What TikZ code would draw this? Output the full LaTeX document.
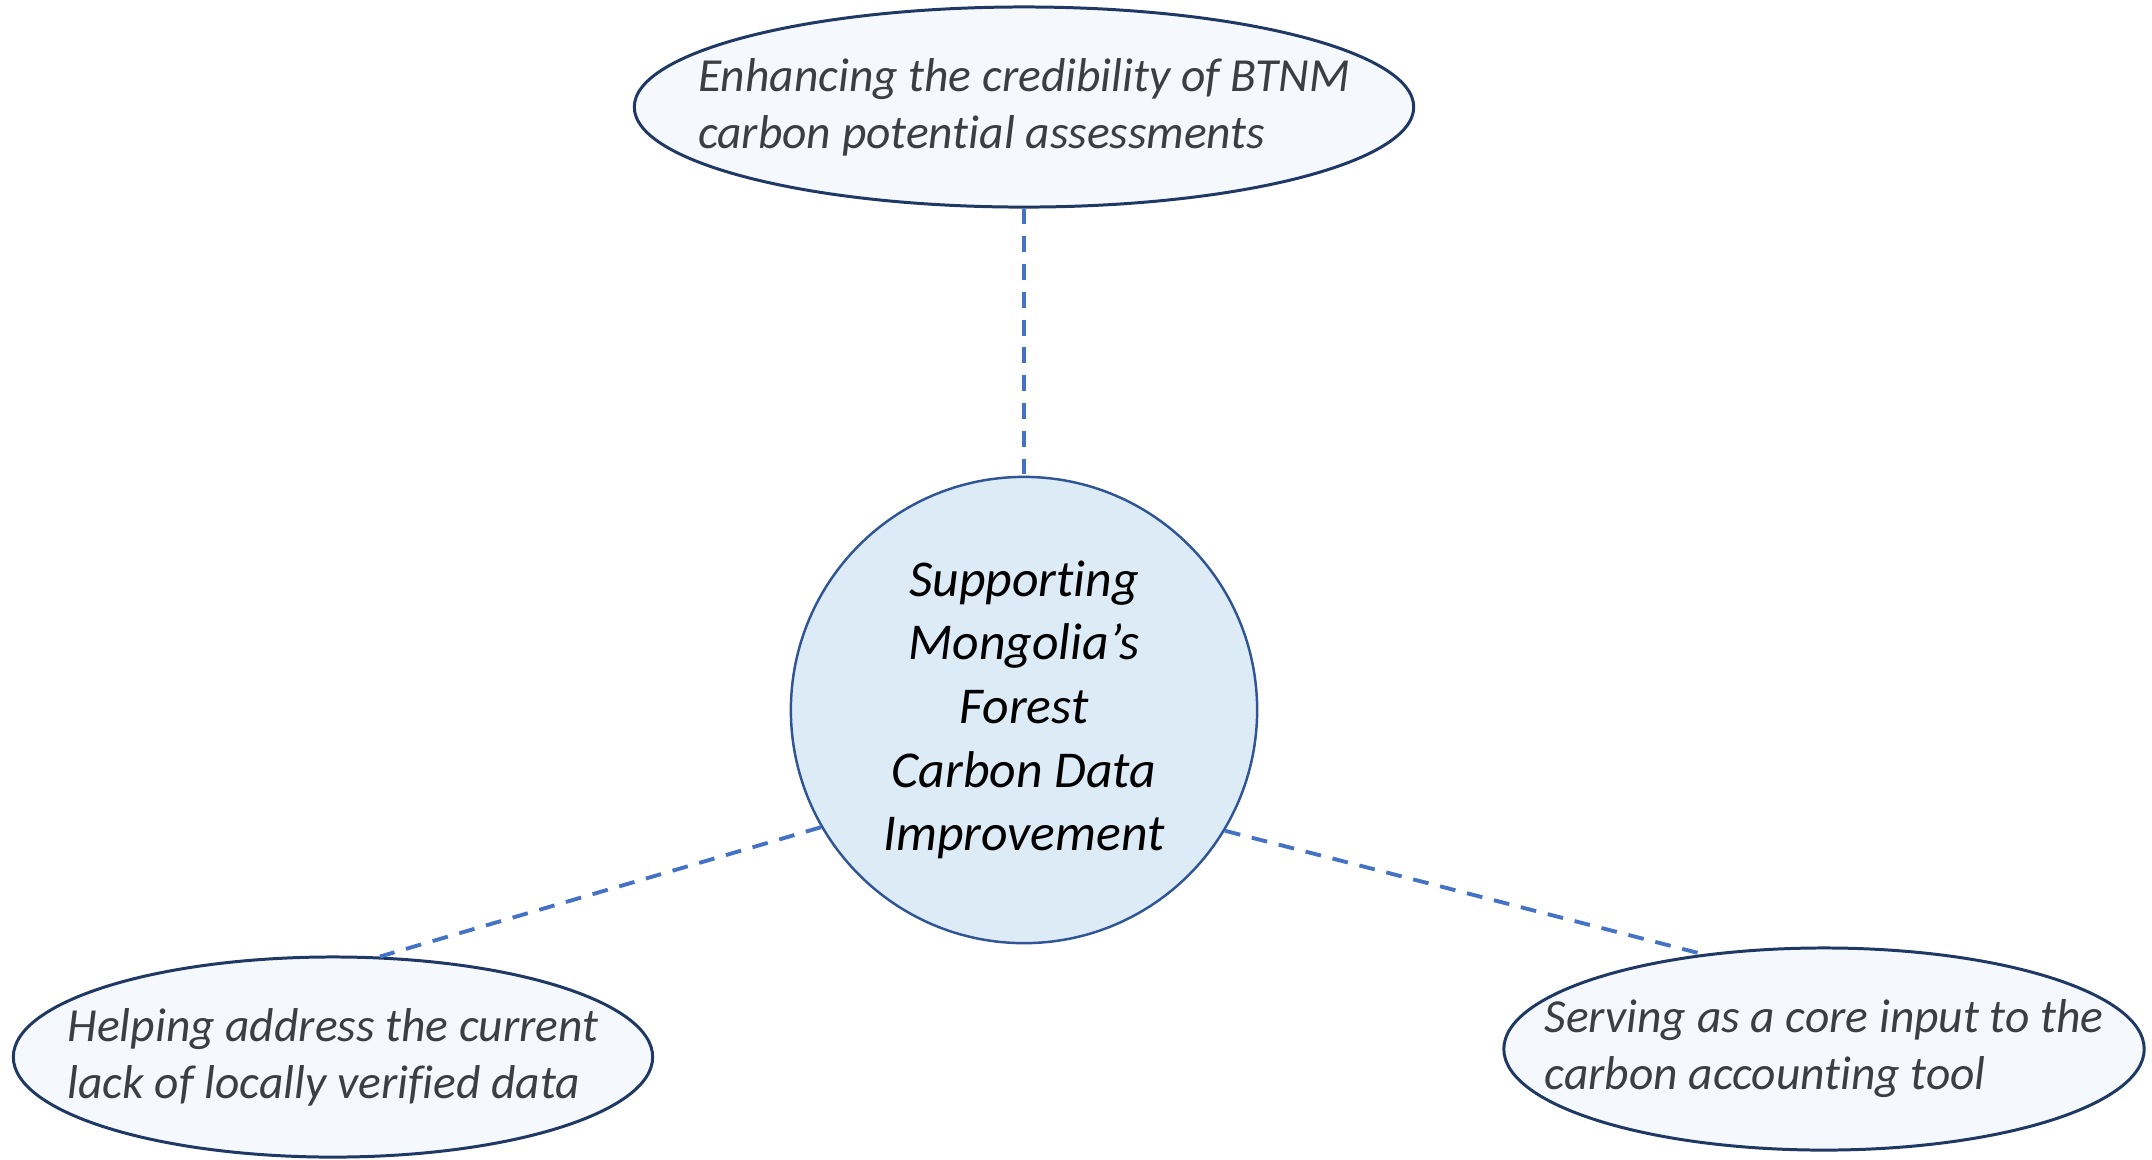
\documentclass[tikz,border=0pt]{standalone}
\usepackage{fontspec}
\setmainfont{Carlito}[Ligatures=NoCommon]
\usetikzlibrary{shapes.geometric}
\definecolor{navy}{HTML}{1F3864}
\definecolor{ovalfill}{HTML}{F5F9FD}
\definecolor{hubfill}{HTML}{DDEBF7}
\definecolor{hubline}{HTML}{2F5597}
\definecolor{dashblue}{HTML}{4472C4}
\definecolor{txtgray}{HTML}{3B3E42}

\begin{document}
\begin{tikzpicture}[x=0.01cm,y=-0.01cm]
\tikzstyle{oval}=[ellipse,draw=navy,line width=0.85pt,fill=ovalfill,inner xsep=-1.2cm,inner ysep=0pt,
  text=txtgray,align=left,font=\fontsize{13.5}{16.2}\selectfont\itshape]
\tikzstyle{hub}=[circle,draw=hubline,line width=0.7pt,fill=hubfill,inner sep=0pt,
  minimum size=4.66cm,align=center,font=\fontsize{14.7}{18.1}\selectfont\itshape]
\tikzstyle{link}=[dashblue,line width=1.1pt,dash pattern=on 4.5pt off 3.4pt]
\useasboundingbox (0,0) rectangle (2152,1159);
\node [hub] (hub) at (1024,710) {Supporting\\Mongolia’s\\Forest\\Carbon Data\\Improvement};
\node [oval,minimum width=7.79cm,minimum height=2cm] (top) at (1024,107)
  {Enhancing the credibility of BTNM\\carbon potential assessments};
\node [oval,minimum width=6.39cm,minimum height=2cm] (left) at (333,1057)
  {Helping address the current\\lack of locally verified data};
\node [oval,minimum width=6.4cm,minimum height=2.02cm] (right) at (1824,1049)
  {Serving as a core input to the\\carbon accounting tool};
\draw [link] (top.south) -- (hub.north);
\draw [link] (hub.210) -- (left.65);
\draw [link] (hub.329) -- (right.142);
\end{tikzpicture}
\end{document}
